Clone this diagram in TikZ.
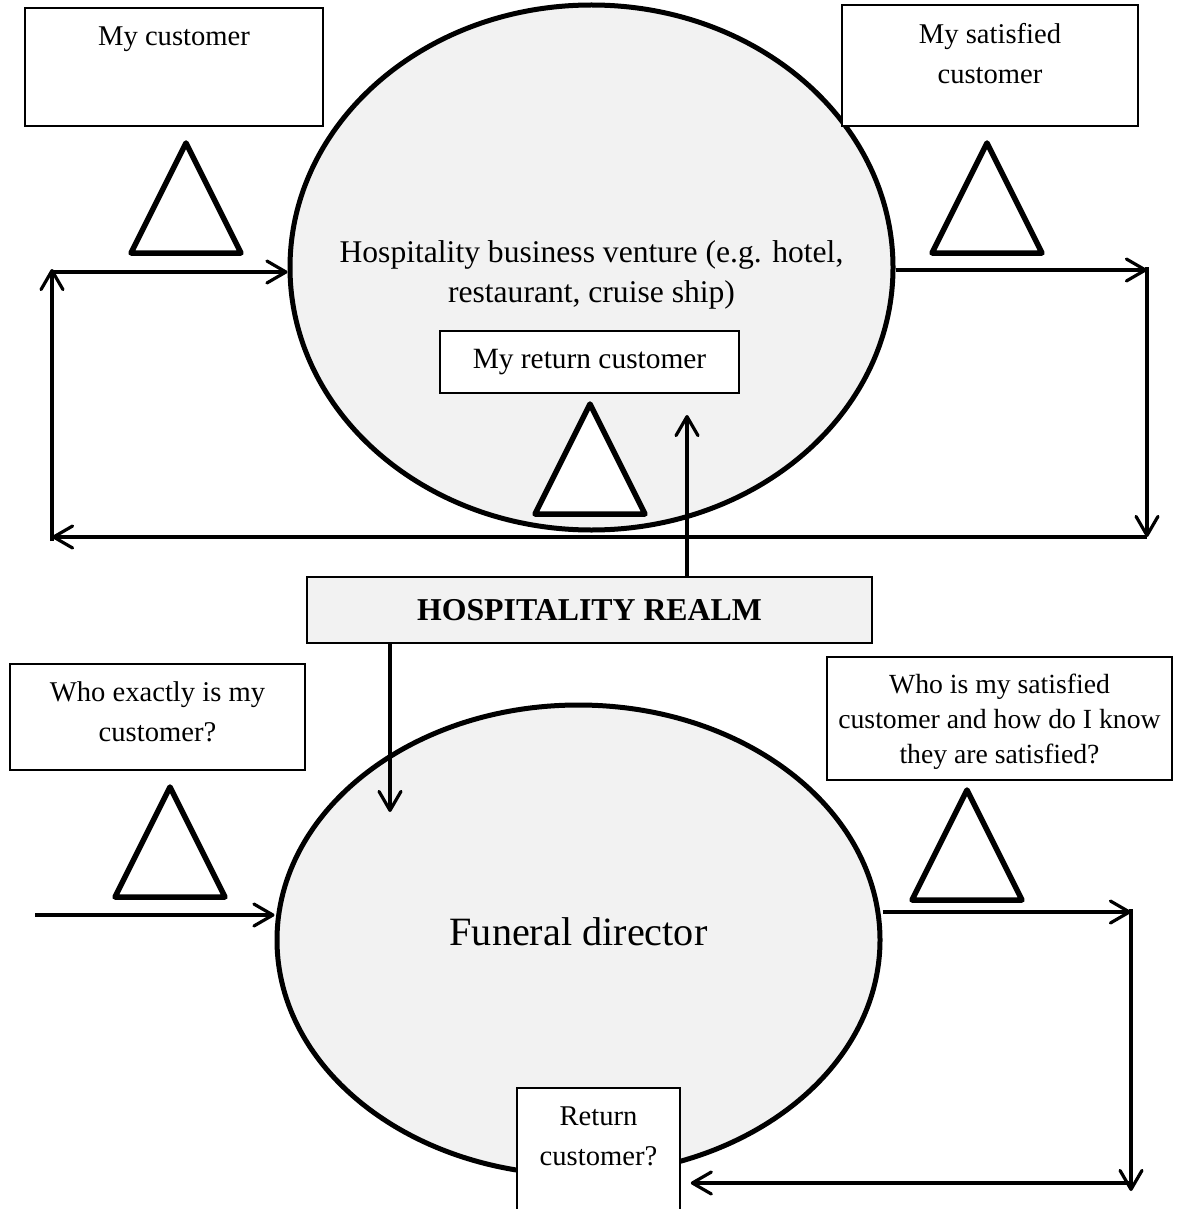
\documentclass[tikz,border=0pt]{standalone}
\usepackage{fontspec}
\setmainfont{Liberation Serif}
\usetikzlibrary{shapes.geometric, arrows.meta, positioning}
\definecolor{venturefill}{HTML}{F2F2F2}

\begin{document}
\begin{tikzpicture}[
    x=1pt, y=-1pt,
    every node/.style={font=\fontsize{28.6}{40}\selectfont},
    venture/.style={ellipse, draw, fill=venturefill, line width=5pt,
                    inner sep=0pt, align=center},
    note/.style={draw, line width=1.5pt, fill=white, inner sep=0pt},
    caption/.style={align=center, inner sep=0pt, anchor=north},
    warn/.style={draw, line width=5.5pt, line join=round, fill=white},
    flow/.style={line width=3.2pt, -{Straight Barb[length=19pt, width=22pt, round]}},
]
    \path[use as bounding box, clip] (0,0) rectangle (1179,1209);

    % Hospitality venture
    \node[venture, minimum width=603, minimum height=525,
          label={[align=center, inner sep=0pt, yshift=-7,
                  font=\fontsize{31.6}{40}\selectfont]center:Hospitality business venture (e.g. hotel,\\restaurant, cruise ship)}]
          (hosp) at (591.5,267.5) {};
    \node[note, minimum width=299, minimum height=62,
          font=\fontsize{29.4}{40}\selectfont] (myret) at (589.5,362) {My return customer};

    \node[note, minimum width=298, minimum height=118,
          label={[caption, yshift=-19]north:My customer}] (mycust) at (174,67) {};
    \node[note, minimum width=296, minimum height=121,
          label={[caption, yshift=-19]north:My satisfied\\customer}] (mysat) at (990,65.5) {};

    % Realm
    \node[note, fill=venturefill, minimum width=565, minimum height=66,
          font=\fontsize{31.8}{38}\selectfont\bfseries] (realm) at (589.5,610) {HOSPITALITY REALM};

    % Funeral director
    \node[venture, minimum width=603, minimum height=470,
          label={[inner sep=0pt, yshift=8, font=\fontsize{40.2}{48}\selectfont]center:Funeral director}]
          (fun) at (578.5,940) {};

    \node[note, minimum width=295, minimum height=106,
          label={[caption, yshift=-18]north:Who exactly is my\\customer?}] (whocust) at (157.5,717) {};
    \node[note, minimum width=345, minimum height=123,
          label={[caption, yshift=-18, font=\fontsize{27.7}{35}\selectfont]north:Who is my satisfied\\customer and how do I know\\they are satisfied?}] (whosat) at (999.5,718.5) {};
    \node[note, anchor=north, minimum width=163, minimum height=150,
          label={[caption, yshift=-20]north:Return\\customer?}] (ret) at (598.5,1087) {};

    % Triangles
    \foreach \ax/\ay in {186/143, 987/143, 590/404, 170/787, 967/790}
        \draw[warn] (\ax,\ay) -- ++(55,110) -- ++(-110,0) -- cycle;

    % Top loop
    \coordinate (tl) at (52,272);
    \coordinate (tr) at (1147,270);
    \coordinate (br) at (1147,537);
    \coordinate (bl) at (52,537);
    \draw[flow] (tl) -- (tl -| hosp.west);
    \draw[flow] (hosp.east |- tr) -- (tr);
    \draw[flow] ([yshift=3]tr) -- (br);
    \draw[flow] (br) -- (bl);
    \draw[flow] ([yshift=-4]bl) -- ([yshift=3]tl);

    % Realm links
    \coordinate (upend) at (687,415);
    \coordinate (downend) at (390,812);
    \draw[flow] (realm.north -| upend) -- (upend);
    \draw[flow] (realm.south -| downend) -- (downend);

    % Bottom loop
    \coordinate (fin) at (35,915);
    \coordinate (fr) at (1131,912);
    \coordinate (fb) at (1131,1183);
    \draw[flow] (fin) -- (fin -| fun.west);
    \draw[flow] (fun.east |- fr) -- (fr);
    \draw[flow] ([yshift=3]fr) -- ([yshift=-8]fb);
    \draw[flow, shorten >=10pt] (fb) -- (ret.east |- fb);
\end{tikzpicture}
\end{document}
